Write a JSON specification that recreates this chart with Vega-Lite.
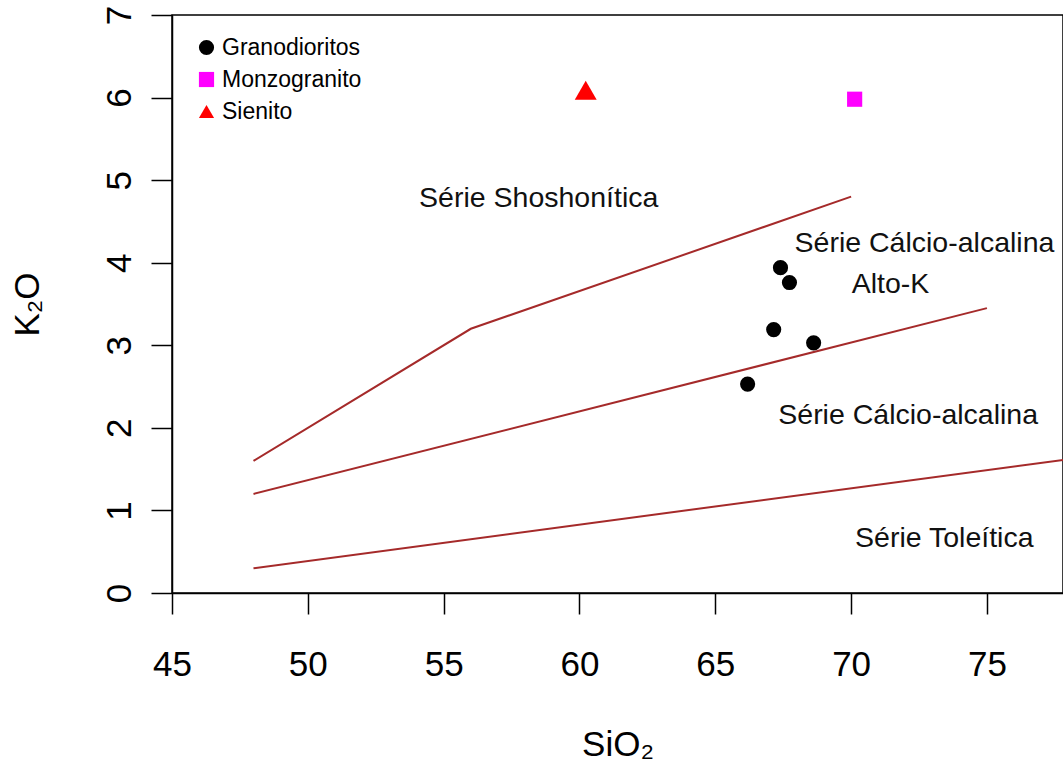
{
  "$schema": "https://vega.github.io/schema/vega-lite/v6.json",
  "width": 891,
  "height": 578,
  "autosize": {"type": "none"},
  "padding": {"left": 172, "top": 15, "right": 0, "bottom": 172},
  "background": "white",
  "config": {
    "view": {"stroke": "black", "strokeWidth": 1.5},
    "axis": {
      "grid": false,
      "domainColor": "black",
      "domainWidth": 1.5,
      "tickColor": "black",
      "tickWidth": 1.5,
      "tickSize": 21,
      "labelFlush": false,
      "labelOverlap": false,
      "labelFont": "Liberation Sans",
      "labelFontSize": 35,
      "labelColor": "black",
      "titleFont": "Liberation Sans",
      "titleFontSize": 35,
      "titleFontWeight": "normal",
      "titleColor": "black"
    },
    "legend": {
      "labelFont": "Liberation Sans",
      "labelFontSize": 23,
      "labelColor": "black",
      "symbolSize": 230
    }
  },
  "datasets": {
    "lines": [
      {"boundary": "shoshonitic", "SiO2": 48, "K2O": 1.6},
      {"boundary": "shoshonitic", "SiO2": 56, "K2O": 3.2},
      {"boundary": "shoshonitic", "SiO2": 70, "K2O": 4.8},
      {"boundary": "highK", "SiO2": 48, "K2O": 1.2},
      {"boundary": "highK", "SiO2": 75, "K2O": 3.45},
      {"boundary": "tholeiitic", "SiO2": 48, "K2O": 0.3},
      {"boundary": "tholeiitic", "SiO2": 78, "K2O": 1.62}
    ],
    "samples": [
      {"rock": "Granodioritos", "SiO2": 67.4, "K2O": 3.94},
      {"rock": "Granodioritos", "SiO2": 67.73, "K2O": 3.76},
      {"rock": "Granodioritos", "SiO2": 67.15, "K2O": 3.19},
      {"rock": "Granodioritos", "SiO2": 68.62, "K2O": 3.03},
      {"rock": "Granodioritos", "SiO2": 66.19, "K2O": 2.53},
      {"rock": "Monzogranito", "SiO2": 70.13, "K2O": 5.98},
      {"rock": "Sienito", "SiO2": 60.23, "K2O": 6.09}
    ],
    "labels": [
      {"text": "Série Shoshonítica", "SiO2": 58.5, "K2O": 4.78},
      {"text": "Série Cálcio-alcalina", "SiO2": 72.7, "K2O": 4.24},
      {"text": "Alto-K", "SiO2": 71.45, "K2O": 3.74},
      {"text": "Série Cálcio-alcalina", "SiO2": 72.1, "K2O": 2.16},
      {"text": "Série Toleítica", "SiO2": 73.43, "K2O": 0.67}
    ]
  },
  "layer": [
    {
      "data": {"name": "lines"},
      "mark": {"type": "line", "color": "#A52A2A", "strokeWidth": 2, "clip": true},
      "encoding": {
        "x": {
          "field": "SiO2", "type": "quantitative",
          "scale": {"domain": [45, 77.8], "nice": false, "zero": false},
          "axis": {
            "title": "SiO₂",
            "values": [45, 50, 55, 60, 65, 70, 75],
            "format": "d",
            "labelBaseline": "alphabetic",
            "labelPadding": 61,
            "titleBaseline": "alphabetic",
            "titleY": 162,
            "titleX": 445.5
          }
        },
        "y": {
          "field": "K2O", "type": "quantitative",
          "scale": {"domain": [0, 7], "nice": false, "zero": false},
          "axis": {
            "title": "K₂O",
            "values": [0, 1, 2, 3, 4, 5, 6, 7],
            "format": "d",
            "labelAngle": 270,
            "labelAlign": "center",
            "labelBaseline": "alphabetic",
            "labelPadding": 21,
            "titleAngle": 270,
            "titleAlign": "center",
            "titleBaseline": "alphabetic",
            "titleX": -134,
            "titleY": 289
          }
        },
        "detail": {"field": "boundary", "type": "nominal"},
        "order": {"field": "SiO2", "type": "quantitative"}
      }
    },
    {
      "data": {"name": "samples"},
      "transform": [{"filter": "datum.rock !== 'Sienito'"}],
      "mark": {"type": "point", "filled": true, "opacity": 1, "strokeWidth": 0, "size": 230},
      "encoding": {
        "x": {"field": "SiO2", "type": "quantitative", "scale": {"domain": [45, 77.8], "nice": false, "zero": false}},
        "y": {"field": "K2O", "type": "quantitative", "scale": {"domain": [0, 7], "nice": false, "zero": false}},
        "color": {
          "field": "rock", "type": "nominal",
          "scale": {"domain": ["Granodioritos", "Monzogranito", "Sienito"], "range": ["#000000", "#FF00FF", "#FF0000"]},
          "legend": {
            "title": null,
            "orient": "none",
            "legendX": 23,
            "legendY": 21,
            "padding": 0,
            "rowPadding": 8,
            "labelOffset": 4,
            "symbolStrokeWidth": 0
          }
        },
        "shape": {
          "field": "rock", "type": "nominal",
          "scale": {"domain": ["Granodioritos", "Monzogranito", "Sienito"], "range": ["circle", "square", "triangle-up"]},
          "legend": {
            "title": null,
            "orient": "none",
            "legendX": 23,
            "legendY": 21,
            "padding": 0,
            "rowPadding": 8,
            "labelOffset": 4,
            "symbolStrokeWidth": 0
          }
        }
      }
    },
    {
      "data": {"name": "samples"},
      "transform": [{"filter": "datum.rock === 'Sienito'"}],
      "mark": {"type": "point", "filled": true, "opacity": 1, "strokeWidth": 0, "size": 480},
      "encoding": {
        "x": {"field": "SiO2", "type": "quantitative", "scale": {"domain": [45, 77.8], "nice": false, "zero": false}},
        "y": {"field": "K2O", "type": "quantitative", "scale": {"domain": [0, 7], "nice": false, "zero": false}},
        "color": {
          "field": "rock", "type": "nominal",
          "scale": {"domain": ["Granodioritos", "Monzogranito", "Sienito"], "range": ["#000000", "#FF00FF", "#FF0000"]},
          "legend": {
            "title": null,
            "orient": "none",
            "legendX": 23,
            "legendY": 21,
            "padding": 0,
            "rowPadding": 8,
            "labelOffset": 4,
            "symbolStrokeWidth": 0
          }
        },
        "shape": {
          "field": "rock", "type": "nominal",
          "scale": {"domain": ["Granodioritos", "Monzogranito", "Sienito"], "range": ["circle", "square", "triangle-up"]},
          "legend": {
            "title": null,
            "orient": "none",
            "legendX": 23,
            "legendY": 21,
            "padding": 0,
            "rowPadding": 8,
            "labelOffset": 4,
            "symbolStrokeWidth": 0
          }
        }
      }
    },
    {
      "data": {"name": "labels"},
      "mark": {"type": "text", "font": "Liberation Sans", "fontSize": 28.5, "color": "#111111", "align": "center", "baseline": "middle"},
      "encoding": {
        "x": {"field": "SiO2", "type": "quantitative", "scale": {"domain": [45, 77.8], "nice": false, "zero": false}},
        "y": {"field": "K2O", "type": "quantitative", "scale": {"domain": [0, 7], "nice": false, "zero": false}},
        "text": {"field": "text", "type": "nominal"}
      }
    }
  ]
}
